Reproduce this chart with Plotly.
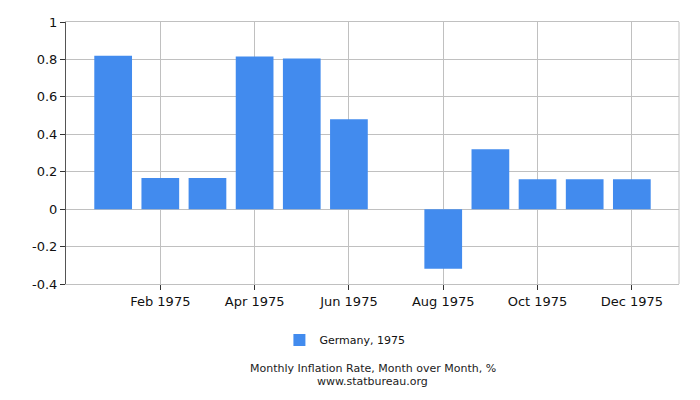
import plotly.graph_objects as go

months = ['Jan 1975', 'Feb 1975', 'Mar 1975', 'Apr 1975', 'May 1975', 'Jun 1975',
          'Jul 1975', 'Aug 1975', 'Sep 1975', 'Oct 1975', 'Nov 1975', 'Dec 1975']
rates = [0.82, 0.166, 0.166, 0.815, 0.805, 0.48, 0.0, -0.318, 0.32, 0.16, 0.16, 0.16]
tick_months = ['Feb 1975', 'Apr 1975', 'Jun 1975', 'Aug 1975', 'Oct 1975', 'Dec 1975']
y_ticks = [-0.4, -0.2, 0, 0.2, 0.4, 0.6, 0.8, 1]
y_labels = ['-0.4', '-0.2', '0', '0.2', '0.4', '0.6', '0.8', '1']

xs = list(range(len(months)))
tick_pos = [months.index(m) for m in tick_months]

fig = go.Figure()
fig.add_trace(go.Bar(
    x=xs, y=rates, name='Germany, 1975',
    marker=dict(color='#428bee', line=dict(width=0)),
    width=0.8,
))

# page body has an 8px margin, so the margins are shifted to compensate
fig.update_layout(
    width=700, height=400,
    margin=dict(l=58, r=29, t=14, b=124, autoexpand=False),
    paper_bgcolor='white', plot_bgcolor='white',
    font=dict(family='DejaVu Sans', size=13, color='#111111'),
    showlegend=True,
    legend=dict(orientation='h', x=0.455, xanchor='center', y=-0.214, yanchor='middle',
                font=dict(size=11)),
)
fig.update_xaxes(
    range=[-1, 12], tickvals=tick_pos, ticktext=tick_months,
    showgrid=True, gridcolor='#c0c0c0', gridwidth=1,
    ticks='outside', ticklen=5, tickcolor='#333333',
    showline=True, linecolor='#c0c0c0', mirror=True,
    zeroline=False, automargin=False,
)
fig.update_yaxes(
    range=[-0.4, 1], tickvals=y_ticks, ticktext=y_labels,
    showgrid=True, gridcolor='#c0c0c0', gridwidth=1,
    ticks='outside', ticklen=5, tickcolor='#333333',
    showline=True, linecolor='#555555',
    zeroline=False, automargin=False,
)
fig.add_shape(type='line', xref='paper', yref='paper', x0=1, x1=1, y0=0, y1=1,
              line=dict(color='#c0c0c0', width=1))
fig.add_annotation(
    text='Monthly Inflation Rate, Month over Month, %',
    xref='paper', yref='paper', x=0.5, y=-0.3244, xanchor='center', yanchor='middle',
    showarrow=False, font=dict(size=11, color='#222222'),
)
fig.add_annotation(
    text='www.statbureau.org',
    xref='paper', yref='paper', x=0.5, y=-0.374, xanchor='center', yanchor='middle',
    showarrow=False, font=dict(size=11, color='#222222'),
)

fig.write_html('out.html')
